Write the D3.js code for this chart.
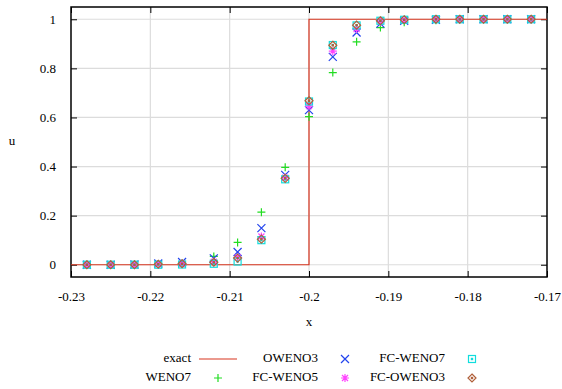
<!DOCTYPE html>
<html>
<head>
<meta charset="utf-8">
<script src="https://cdn.jsdelivr.net/npm/d3@7"></script>
<style>
  body { margin: 0; background: #fff; }
  svg text { font-family: "Liberation Serif", "Times New Roman", Times, serif; font-size: 13px; fill: #000; }
</style>
</head>
<body>
<script>
let width = 562,
  height = 389;

// grid points
const xs = [-0.228, -0.225, -0.222, -0.219, -0.216, -0.212, -0.209, -0.206, -0.203, -0.200,
  -0.197, -0.194, -0.191, -0.188, -0.184, -0.181, -0.178, -0.175, -0.172];

const weno7    = [0, 0, 0.001, 0.003, 0.006, 0.034, 0.091, 0.214, 0.397, 0.603, 0.783, 0.908, 0.966, 0.988, 0.996, 0.999, 1, 1, 1];
const oweno3   = [0, 0, 0.001, 0.005, 0.011, 0.026, 0.052, 0.149, 0.366, 0.630, 0.847, 0.946, 0.982, 0.994, 0.998, 1, 1, 1, 1];
const fcWeno5  = [0, 0, 0, 0.002, 0.004, 0.012, 0.030, 0.115, 0.355, 0.646, 0.870, 0.960, 0.990, 0.997, 1, 1, 1, 1, 1];
const fcWeno7  = [0, 0, 0, 0, 0.001, 0.004, 0.013, 0.100, 0.348, 0.665, 0.895, 0.975, 0.994, 0.998, 1, 1, 1, 1, 1];
const fcOweno3 = [0, 0, 0, 0.002, 0.004, 0.010, 0.027, 0.104, 0.352, 0.668, 0.894, 0.976, 0.994, 0.998, 1, 1, 1, 1, 1];

const exactX = [-0.23, -0.2, -0.2, -0.17];
const exactY = [0, 0, 1, 1];

const xTicks = [-0.23, -0.22, -0.21, -0.2, -0.19, -0.18, -0.17];
const yTicks = [0, 0.2, 0.4, 0.6, 0.8, 1];

const series = [
  { name: 'WENO7', values: weno7, color: '#22dd22', shape: 'plus' },
  { name: 'OWENO3', values: oweno3, color: '#2244ee', shape: 'cross' },
  { name: 'FC-WENO5', values: fcWeno5, color: '#ff44ff', shape: 'star' },
  { name: 'FC-WENO7', values: fcWeno7, color: '#11dddd', shape: 'square' },
  { name: 'FC-OWENO3', values: fcOweno3, color: '#b0603a', shape: 'diamond' }
];

let pLeft = 71, pRight = 547, pTop = 7, pBottom = 277;

let x = d3.scaleLinear().domain([-0.23, -0.17]).range([pLeft, pRight]);
let y = d3.scaleLinear().domain([-0.05, 1.05]).range([pBottom, pTop]);

let svg = d3.select("body").append("svg")
  .attr("width", width)
  .attr("height", height);

// grid
svg.append("g").selectAll("line")
  .data(xTicks.slice(1, -1))
  .enter().append("line")
  .attr("x1", d => x(d)).attr("x2", d => x(d))
  .attr("y1", pTop).attr("y2", pBottom)
  .attr("stroke", "#dcdcdc").attr("stroke-width", 1.2);

svg.append("g").selectAll("line")
  .data(yTicks)
  .enter().append("line")
  .attr("x1", pLeft).attr("x2", pRight)
  .attr("y1", d => y(d)).attr("y2", d => y(d))
  .attr("stroke", "#dcdcdc").attr("stroke-width", 1.2);

// axes (gnuplot style: inward ticks, mirrored)
function styleAxis(g) {
  g.attr("font-family", null).attr("font-size", null);
  g.select(".domain").remove();
  g.selectAll(".tick line").attr("stroke", "#000").attr("stroke-width", 1);
  g.selectAll(".tick text").attr("fill", null);
}

svg.append("g")
  .attr("transform", `translate(0,${pBottom})`)
  .call(d3.axisBottom(x).tickValues(xTicks).tickSizeInner(-6).tickPadding(15)
    .tickFormat(d => String(+d.toFixed(2))))
  .call(styleAxis);

svg.append("g")
  .attr("transform", `translate(0,${pTop})`)
  .call(d3.axisTop(x).tickValues(xTicks).tickSizeInner(-6).tickFormat(""))
  .call(styleAxis);

svg.append("g")
  .attr("transform", `translate(${pLeft},0)`)
  .call(d3.axisLeft(y).tickValues(yTicks).tickSizeInner(-6).tickPadding(15)
    .tickFormat(d => String(+d.toFixed(1))))
  .call(styleAxis);

svg.append("g")
  .attr("transform", `translate(${pRight},0)`)
  .call(d3.axisRight(y).tickValues(yTicks).tickSizeInner(-6).tickFormat(""))
  .call(styleAxis);

svg.append("rect")
  .attr("x", pLeft).attr("y", pTop)
  .attr("width", pRight - pLeft).attr("height", pBottom - pTop)
  .attr("fill", "none").attr("stroke", "#000").attr("stroke-width", 1.5);

// exact solution
let line = d3.line().x(d => x(d[0])).y(d => y(d[1]));
svg.append("path")
  .datum(exactX.map((v, i) => [v, exactY[i]]))
  .attr("d", line)
  .attr("fill", "none")
  .attr("stroke", "#d8341e")
  .attr("stroke-width", 1.2);

// markers
function marker(g, shape, color) {
  let s = 4;
  if (shape === 'plus') {
    g.append("path").attr("d", `M${-s},0H${s}M0,${-s}V${s}`);
  } else if (shape === 'cross') {
    g.append("path").attr("d", `M${-s},${-s}L${s},${s}M${-s},${s}L${s},${-s}`);
  } else if (shape === 'star') {
    g.append("path").attr("d", `M${-s},0H${s}M0,${-s}V${s}M${-3},${-3}L3,3M-3,3L3,-3`);
  } else if (shape === 'square') {
    g.append("rect").attr("x", -3.5).attr("y", -3.5).attr("width", 7).attr("height", 7);
    g.append("rect").attr("x", -0.6).attr("y", -0.6).attr("width", 1.2).attr("height", 1.2);
  } else if (shape === 'diamond') {
    g.append("path").attr("d", "M0,-4L4,0L0,4L-4,0Z");
    g.append("rect").attr("x", -0.6).attr("y", -0.6).attr("width", 1.2).attr("height", 1.2);
  }
  g.selectAll("*").attr("fill", "none").attr("stroke", color).attr("stroke-width", 1.2);
}

series.forEach(function(s) {
  let pts = svg.append("g").selectAll("g")
    .data(s.values.map((v, i) => [xs[i], v]))
    .enter().append("g")
    .attr("transform", d => `translate(${x(d[0])},${y(d[1])})`);
  pts.each(function() { marker(d3.select(this), s.shape, s.color); });
});

// axis labels
svg.append("text").attr("x", 12).attr("y", 142).attr("text-anchor", "middle")
  .attr("dominant-baseline", "middle").text("u");
svg.append("text").attr("x", x(-0.2)).attr("y", 323).attr("text-anchor", "middle")
  .attr("dominant-baseline", "middle").text("x");

// legend: column-wise, two rows
const legendItems = [{ name: 'exact', shape: 'line', color: '#d8341e' }].concat(series);
const colText = [191, 318, 445];
const colMark = [218, 345, 472];
const rowY = [359, 378];

legendItems.forEach(function(item, i) {
  let col = Math.floor(i / 2), row = i % 2;
  svg.append("text")
    .attr("x", colText[col]).attr("y", rowY[row])
    .attr("text-anchor", "end").attr("dominant-baseline", "middle")
    .text(item.name);
  if (item.shape === 'line') {
    svg.append("line")
      .attr("x1", colMark[col] - 19).attr("x2", colMark[col] + 19)
      .attr("y1", rowY[row]).attr("y2", rowY[row])
      .attr("stroke", item.color).attr("stroke-width", 1.2);
  } else {
    let g = svg.append("g").attr("transform", `translate(${colMark[col]},${rowY[row]})`);
    marker(g, item.shape, item.color);
  }
});
</script>
</body>
</html>
